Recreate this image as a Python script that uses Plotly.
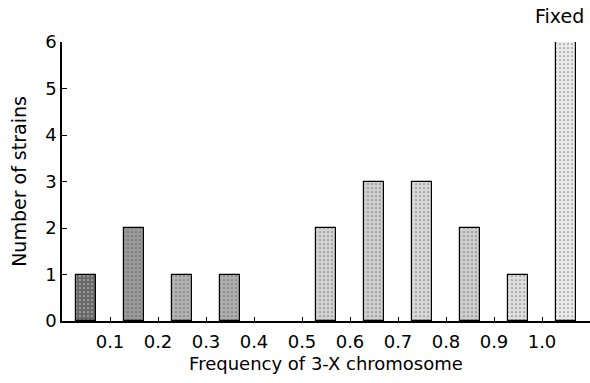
import plotly.graph_objects as go

# Data
bin_centers = [0.05, 0.15, 0.25, 0.35, 0.45, 0.55, 0.65, 0.75, 0.85, 0.95, 1.05]
num_strains = [1, 2, 1, 1, 0, 2, 3, 3, 2, 1, 6]
x_tick_vals = [0.1, 0.2, 0.3, 0.4, 0.5, 0.6, 0.7, 0.8, 0.9, 1.0]
x_tick_text = ["0.1", "0.2", "0.3", "0.4", "0.5", "0.6", "0.7", "0.8", "0.9", "1.0"]
y_tick_vals = [0, 1, 2, 3, 4, 5, 6]
bar_shades = ["#6a6a6a", "#999999", "#b2b2b2", "#aeaeae", "#dddddd", "#d2d2d2",
              "#cecece", "#d8d8d8", "#cecece", "#dedede", "#eaeaea"]

FONT = "DejaVu Sans, Liberation Sans, Arial, sans-serif"

outline_w = [0 if v == 0 else 1.2 for v in num_strains]

fig = go.Figure()
fig.add_trace(go.Bar(
    x=bin_centers,
    y=num_strains,
    width=0.042,
    marker=dict(
        color=bar_shades,
        line=dict(color="black", width=outline_w),
        pattern=dict(shape=".", fgcolor="#2a2a2a", fgopacity=0.6,
                     solidity=0.15, size=4, fillmode="overlay"),
    ),
    showlegend=False,
    hoverinfo="x+y",
))

fig.add_annotation(
    x=1.05, y=1, xref="x", yref="paper", xshift=-7, yshift=13,
    text="Fixed", showarrow=False, yanchor="bottom",
    font=dict(family=FONT, size=19, color="black"),
)

fig.update_layout(
    width=590, height=383,
    margin=dict(l=62, r=0, t=42, b=62),
    paper_bgcolor="white", plot_bgcolor="white",
    font=dict(family=FONT, size=18, color="black"),
    bargap=0,
)
fig.update_xaxes(
    range=[0, 1.1], automargin=False,
    tickvals=x_tick_vals, ticktext=x_tick_text,
    ticks="inside", ticklen=4, tickwidth=1, tickcolor="black",
    ticklabelstandoff=4,
    showline=True, linecolor="black", linewidth=1.5,
    showgrid=False, zeroline=False,
    tickfont=dict(family=FONT, size=18),
    title=dict(text="Frequency of 3-X chromosome", standoff=6,
               font=dict(family=FONT, size=18)),
)
fig.update_yaxes(
    range=[0, 6], automargin=False,
    tickvals=y_tick_vals,
    ticks="inside", ticklen=5, tickwidth=1, tickcolor="black",
    showline=True, linecolor="black", linewidth=1.5,
    showgrid=False, zeroline=False,
    tickfont=dict(family=FONT, size=18),
    title=dict(text="Number of strains", standoff=14,
               font=dict(family=FONT, size=19)),
)

fig.write_html(
    "out.html",
    config={"displayModeBar": False},
    post_script="document.body.style.margin='0';document.body.style.overflow='hidden';",
)
